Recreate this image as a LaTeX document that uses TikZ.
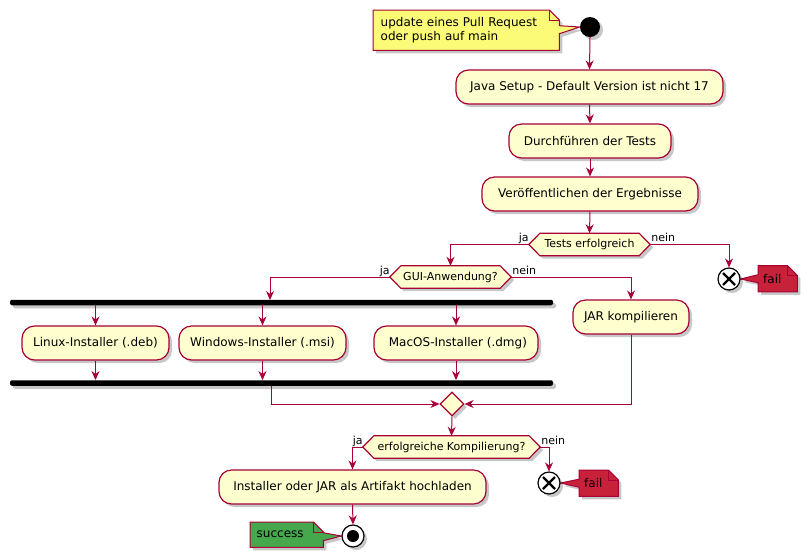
\documentclass[tikz,border=0pt]{standalone}
\usepackage{fontspec}
\setmainfont{DejaVu Sans}
\usetikzlibrary{arrows.meta,shapes.geometric,shadows,backgrounds,calc}
\definecolor{pborder}{HTML}{A80036}
\definecolor{pfill}{HTML}{FEFECE}
\definecolor{pnote}{HTML}{FBFB77}
\definecolor{pfail}{HTML}{C8213A}
\definecolor{psucc}{HTML}{45A84D}
\begin{document}
\begin{tikzpicture}[x=1pt,y=-1pt,
  font=\fontsize{12}{14}\selectfont,
  flow/.style={draw=pborder, line width=1pt, -{Stealth[length=9pt,width=8pt,inset=3pt]}},
  shad/.style={drop shadow={shadow xshift=3pt,shadow yshift=-3pt,opacity=0.22,fill=black}},
  act/.style={rectangle, rounded corners=12.5pt, draw=pborder, fill=pfill, line width=1.2pt, minimum height=34pt, inner sep=0pt, shad},
  dec/.style={rectangle, minimum height=22pt, inner sep=0pt, font=\fontsize{11}{13}\selectfont},
  decshape/.style={draw=pborder, fill=pfill, line width=1.2pt, shad},
  lbl/.style={font=\fontsize{11}{13}\selectfont, inner sep=0pt},
  notetxt/.style={anchor=north west, inner ysep=0pt, align=left},
  noteshape/.style={draw=pborder, line width=1pt, shad},
  bar/.style={rectangle, fill=black, rounded corners=2pt, inner sep=0pt, minimum height=5.5pt, shad},
  startc/.style={circle, fill=black, minimum size=20pt, inner sep=0pt, shad},
  endx/.style={circle, draw=black, fill=white, line width=1.2pt, minimum size=22pt, inner sep=0pt, shad},
  mergeshape/.style={diamond, draw=pborder, fill=pfill, line width=1.2pt, minimum width=24pt, minimum height=24pt, inner sep=0pt, shad}
]
\useasboundingbox (0,0) rectangle (808,558);

% start and note
\node[startc] (start) at (590,27) {};
\node[notetxt, minimum width=186pt, minimum height=40pt, text width=171pt, inner xsep=7.5pt] (n1) at (373,10) {update eines Pull Request\\oder push auf main};

% activities
\node[act, minimum width=267pt] (java) at (589.5,87) {Java Setup - Default Version ist nicht 17};
\node[act, minimum width=162pt] (tests) at (590,141) {Durchführen der Tests};
\node[act, minimum width=216pt] (pub) at (590,194) {Veröffentlichen der Ergebnisse};

% decisions
\node[dec, minimum width=121pt] (d1) at (589.5,244.5) {Tests erfolgreich};
\node[dec, minimum width=121pt] (d2) at (450.5,277) {GUI-Anwendung?};
\node[dec, minimum width=177pt] (d3) at (451.5,447) {erfolgreiche Kompilierung?};

% end 1 + fail note
\node[endx] (e1) at (729,279) {};
\node[notetxt, minimum width=39pt, minimum height=26pt, text width=29pt, inner xsep=5pt] (f1) at (758,265.5) {fail};

% fork/join
\node[bar, minimum width=543pt] (fork) at (281.5,302.5) {};
\node[bar, minimum width=543pt] (join) at (281.5,383) {};
\node[act, minimum width=147pt] (linux) at (95.5,343) {Linux-Installer (.deb)};
\node[act, minimum width=167pt] (win) at (262.5,343) {Windows-Installer (.msi)};
\node[act, minimum width=164pt] (mac) at (456,343) {\ MacOS-Installer (.dmg)};
\node[act, minimum width=116pt] (jar) at (631,317) {JAR kompilieren};

% merge
\node[mergeshape] (merge) at (452,404) {};

% upload
\node[act, minimum width=267pt] (upload) at (352.5,487) {Installer oder JAR als Artifakt hochladen};

% end 2 + fail note
\node[endx] (e2) at (549,483) {};
\node[notetxt, minimum width=39pt, minimum height=26pt, text width=29pt, inner xsep=5pt] (f2) at (579,470) {fail};

% stop + success note
\node[endx] (stop) at (353,536) {};
\node[circle, fill=black, minimum size=12pt, inner sep=0pt] (stopi) at (stop.center) {};
\node[notetxt, minimum width=73pt, minimum height=25pt, text width=60pt, inner xsep=6.5pt] (s1) at (250,522) {success};

% crosses
\foreach \e in {e1,e2}{
  \draw[line width=2.2pt] ($(\e.center)+(-6,-6)$) -- ($(\e.center)+(6,6)$);
  \draw[line width=2.2pt] ($(\e.center)+(-6,6)$) -- ($(\e.center)+(6,-6)$);
}

\begin{scope}[on background layer]
  % decision hexagons
  \foreach \d in {d1,d2,d3}{
    \path[decshape] (\d.west) -- ($(\d.north west)+(11,0)$) -- ($(\d.north east)+(-11,0)$) -- (\d.east) -- ($(\d.south east)+(-11,0)$) -- ($(\d.south west)+(11,0)$) -- cycle;
  }
  % note 1 (pointer right)
  \path[noteshape, fill=pnote] (n1.north west) -- ($(n1.north east)+(-10,0)$) -- ($(n1.north east)+(0,10)$) -- ($(n1.east)+(0,-4.5)$) -- (start.west) -- ($(n1.east)+(0,3.5)$) -- (n1.south east) -- (n1.south west) -- cycle;
  \draw[draw=pborder, line width=1pt] ($(n1.north east)+(-10,0)$) -- ($(n1.north east)+(-10,10)$) -- ($(n1.north east)+(0,10)$);
  % fail notes (pointer left)
  \foreach \f/\e in {f1/e1,f2/e2}{
    \path[noteshape, fill=pfail] (\f.north west) -- ($(\f.north east)+(-10,0)$) -- ($(\f.north east)+(0,10)$) -- (\f.south east) -- (\f.south west) -- ($(\f.west)+(0,4)$) -- (\e.east) -- ($(\f.west)+(0,-4)$) -- cycle;
    \draw[draw=pborder, line width=1pt] ($(\f.north east)+(-10,0)$) -- ($(\f.north east)+(-10,10)$) -- ($(\f.north east)+(0,10)$);
  }
  % success note (pointer right)
  \path[noteshape, fill=psucc] (s1.north west) -- ($(s1.north east)+(-10,0)$) -- ($(s1.north east)+(0,10)$) -- ($(s1.east)+(0,-2)$) -- (stop.west) -- ($(s1.east)+(0,6)$) -- (s1.south east) -- (s1.south west) -- cycle;
  \draw[draw=pborder, line width=1pt] ($(s1.north east)+(-10,0)$) -- ($(s1.north east)+(-10,10)$) -- ($(s1.north east)+(0,10)$);
\end{scope}

% coordinates
\coordinate (forkin) at (270,300);
\coordinate (joinout) at (271,386);

% connectors
\draw[flow] (start.south) -- (java.north);
\draw[flow] (java.south) -- (tests.north);
\draw[flow] (tests.south) -- (pub.north);
\draw[flow] (pub.south) -- (d1.north);
\draw[flow] (d1.west) -| (d2.north);
\draw[flow] (d1.east) -| (e1.north);
\draw[flow] (d2.west) -| (forkin);
\draw[flow] (d2.east) -| (jar.north);
\draw[flow] (linux.north |- fork.south) -- (linux.north);
\draw[flow] (win.north |- fork.south) -- (win.north);
\draw[flow] (mac.north |- fork.south) -- (mac.north);
\draw[flow] (linux.south) -- (linux.south |- join.north);
\draw[flow] (win.south) -- (win.south |- join.north);
\draw[flow] (mac.south) -- (mac.south |- join.north);
\draw[flow] (joinout) |- (merge.west);
\draw[flow] (jar.south) |- (merge.east);
\draw[flow] (merge.south) -- (d3.north);
\draw[flow] (d3.west) -| (upload.north);
\draw[flow] (d3.east) -| (e2.north);
\draw[flow] (upload.south) -- (stop.north);

% branch labels
\node[lbl, anchor=base east] (l1) at ($(d1.west)+(0,-3)$) {ja};
\node[lbl, anchor=base west] (l2) at ($(d1.east)+(1,-3)$) {nein};
\node[lbl, anchor=base east] (l3) at ($(d2.west)+(0,-3)$) {ja};
\node[lbl, anchor=base west] (l4) at ($(d2.east)+(1,-3)$) {nein};
\node[lbl, anchor=base east] (l5) at ($(d3.west)+(0,-3)$) {ja};
\node[lbl, anchor=base west] (l6) at ($(d3.east)+(1,-3)$) {nein};
\end{tikzpicture}
\end{document}
